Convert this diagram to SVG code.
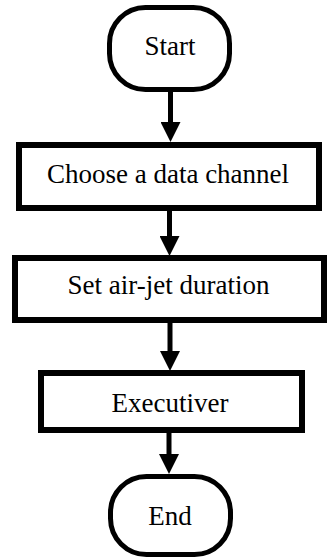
<svg xmlns="http://www.w3.org/2000/svg" width="330" height="558" viewBox="0 0 330 558">
<style>
.term{fill:#fff;stroke:#000;stroke-width:5}
.box{fill:#fff;stroke:#000;stroke-width:6}
.lbl{font-size:27px;fill:#000;text-anchor:middle}
.edge{stroke:#000;stroke-width:5;fill:none;marker-end:url(#ah)}
</style>
<defs>
<marker id="ah" markerUnits="userSpaceOnUse" markerWidth="20" markerHeight="20" refX="4" refY="10" orient="auto" viewBox="0 0 20 20">
<path d="M0,0 L20,10 L0,20 Z" fill="#000"/>
</marker>
</defs>
<rect width="330" height="558" fill="#fff"/>
<g id="connectors">
<line class="edge" x1="170.5" y1="92" x2="170.5" y2="126"/>
<line class="edge" x1="169.5" y1="211" x2="169.5" y2="240"/>
<line class="edge" x1="170" y1="323" x2="170" y2="355"/>
<line class="edge" x1="169" y1="433" x2="169" y2="458"/>
</g>
<g font-family="'Liberation Serif', 'DejaVu Serif', serif">
<g id="start">
<rect class="term" x="109.5" y="7.5" width="120" height="82" rx="36" ry="36"/>
<text class="lbl" x="170" y="55">Start</text>
</g>
<g id="choose">
<rect class="box" x="19" y="145" width="300" height="63"/>
<text class="lbl" x="168" y="183">Choose a data channel</text>
</g>
<g id="setjet">
<rect class="box" x="15" y="258" width="309" height="62"/>
<text class="lbl" x="168.5" y="294">Set air-jet duration</text>
</g>
<g id="exec">
<rect class="box" x="41" y="373" width="261" height="57"/>
<text class="lbl" x="170" y="412">Executiver</text>
</g>
<g id="end">
<rect class="term" x="110.5" y="476.5" width="120" height="78" rx="36" ry="36"/>
<text class="lbl" x="170" y="525">End</text>
</g>
</g>
</svg>
